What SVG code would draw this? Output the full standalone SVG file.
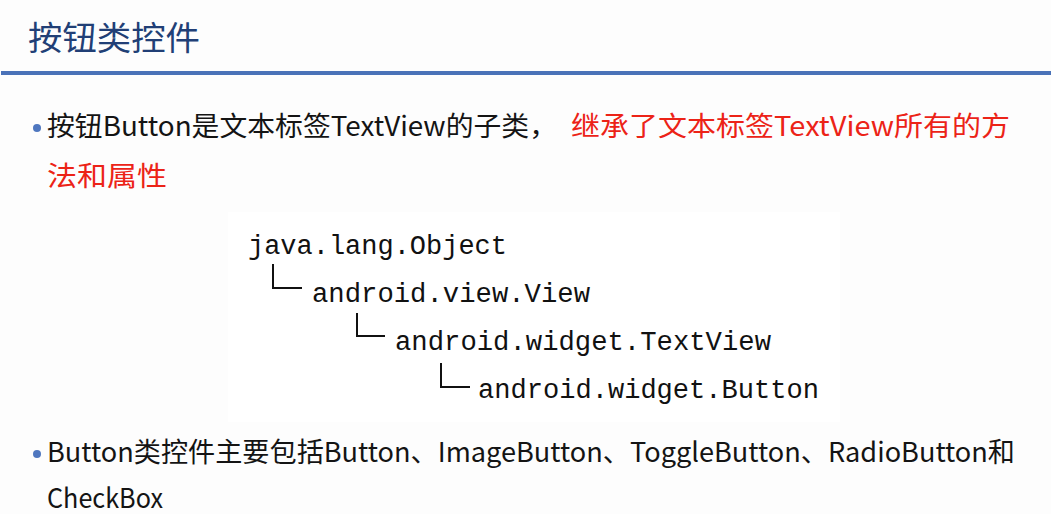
<svg xmlns="http://www.w3.org/2000/svg" width="1051" height="514" viewBox="0 0 1051 514">
<style>
.title{font-family:"Noto Sans CJK SC","Liberation Sans",sans-serif;font-size:33px;fill:#213f76}
.body{font-family:"Noto Sans CJK SC","Liberation Sans",sans-serif;font-size:27px;fill:#141414}
.red{fill:#ec2317}
.code{font-family:"Liberation Mono","DejaVu Sans Mono",monospace;font-size:27px;fill:#111}
.bullet{fill:#4f77bf}
.conn{fill:none;stroke:#111;stroke-width:2}
</style>
<rect width="1051" height="514" fill="#fdfdfd"/>
<g id="header">
<text class="title" x="28" y="50" textLength="172" lengthAdjust="spacingAndGlyphs">按钮类控件</text>
<rect x="1" y="71" width="1050" height="4" fill="#4a72b8"/>
</g>
<g id="point1">
<circle class="bullet" cx="37" cy="128" r="4"/>
<text class="body" x="47" y="136" textLength="510" lengthAdjust="spacingAndGlyphs">按钮Button是文本标签TextView的子类，</text>
<text class="body red" x="571" y="136" textLength="439" lengthAdjust="spacingAndGlyphs">继承了文本标签TextView所有的方</text>
<text class="body red" x="47" y="186" textLength="120" lengthAdjust="spacingAndGlyphs">法和属性</text>
</g>
<rect x="228" y="212" width="612" height="210" fill="#ffffff"/>
<g id="n-object"><text class="code" x="248" y="254" textLength="259" lengthAdjust="spacingAndGlyphs">java.lang.Object</text></g>
<g id="n-view"><text class="code" x="312" y="302" textLength="278" lengthAdjust="spacingAndGlyphs">android.view.View</text></g>
<g id="n-textview"><text class="code" x="395" y="350" textLength="376" lengthAdjust="spacingAndGlyphs">android.widget.TextView</text></g>
<g id="n-button"><text class="code" x="478" y="398" textLength="341" lengthAdjust="spacingAndGlyphs">android.widget.Button</text></g>
<g id="connectors">
<path class="conn" d="M273 264V288H302"/>
<path class="conn" d="M357 313V336H385"/>
<path class="conn" d="M441 363V387H470"/>
</g>
<g id="point2">
<circle class="bullet" cx="37" cy="454" r="4"/>
<text class="body" x="47" y="462" textLength="968" lengthAdjust="spacingAndGlyphs">Button类控件主要包括Button、ImageButton、ToggleButton、RadioButton和</text>
<text class="body" x="47" y="508" textLength="116" lengthAdjust="spacingAndGlyphs">CheckBox</text>
</g>
</svg>
